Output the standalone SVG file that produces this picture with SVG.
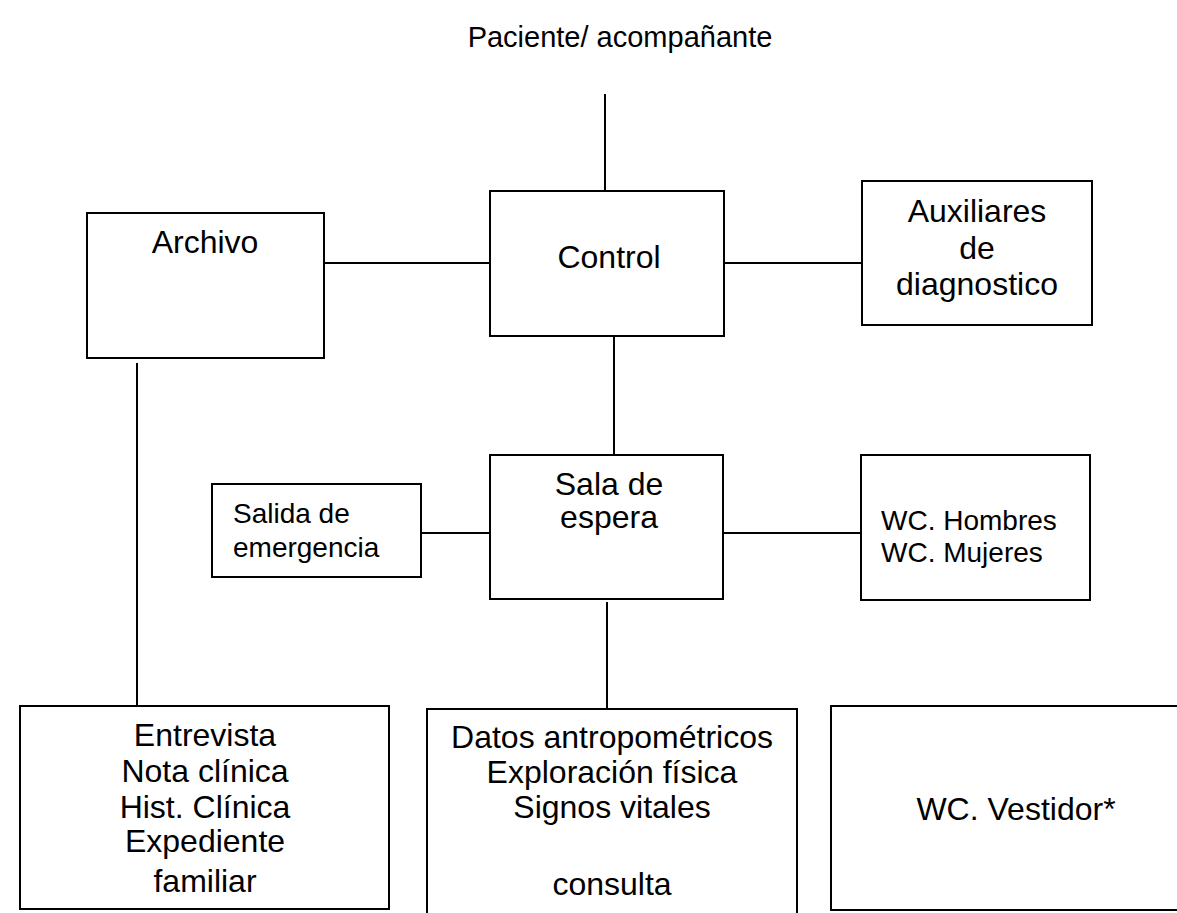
<svg xmlns="http://www.w3.org/2000/svg" width="1177" height="913" viewBox="0 0 1177 913">
<style>
.box{fill:#fff;stroke:#000;stroke-width:2}
.ln{stroke:#000;stroke-width:2;fill:none}
text{font-family:"Liberation Sans",Arial,sans-serif;fill:#000}
.t31{font-size:32px;text-anchor:middle}
.t28{font-size:28px}
</style>
<rect width="1177" height="913" fill="#fff"/>
<g id="connectors">
<line class="ln" x1="605" y1="94" x2="605" y2="191"/>
<line class="ln" x1="324" y1="263" x2="490" y2="263"/>
<line class="ln" x1="724" y1="263" x2="862" y2="263"/>
<line class="ln" x1="614" y1="336" x2="614" y2="455"/>
<line class="ln" x1="421" y1="533" x2="490" y2="533"/>
<line class="ln" x1="723" y1="533" x2="861" y2="533"/>
<line class="ln" x1="137" y1="363" x2="137" y2="706"/>
<line class="ln" x1="607" y1="602" x2="607" y2="709"/>
</g>
<g id="paciente">
<text x="620" y="47" font-size="29" text-anchor="middle">Paciente/ acompañante</text>
</g>
<g id="archivo">
<rect class="box" x="87" y="213" width="237" height="145"/>
<text class="t31" x="205" y="253">Archivo</text>
</g>
<g id="control">
<rect class="box" x="490" y="191" width="234" height="145"/>
<text class="t31" x="609" y="268">Control</text>
</g>
<g id="auxiliares">
<rect class="box" x="862" y="181" width="230" height="144"/>
<text class="t31" x="977" y="222">Auxiliares</text>
<text class="t31" x="977" y="259">de</text>
<text class="t31" x="977" y="295">diagnostico</text>
</g>
<g id="salida">
<rect class="box" x="212" y="484" width="209" height="93"/>
<text class="t28" x="233" y="523">Salida de</text>
<text class="t28" x="233" y="557">emergencia</text>
</g>
<g id="sala">
<rect class="box" x="490" y="455" width="233" height="144"/>
<text class="t31" x="609" y="495">Sala de</text>
<text class="t31" x="609" y="528">espera</text>
</g>
<g id="wc">
<rect class="box" x="861" y="455" width="229" height="145"/>
<text class="t28" x="881" y="530">WC. Hombres</text>
<text class="t28" x="881" y="562">WC. Mujeres</text>
</g>
<g id="entrevista">
<rect class="box" x="20" y="706" width="369" height="203"/>
<text class="t31" x="205" y="746">Entrevista</text>
<text class="t31" x="205" y="782">Nota clínica</text>
<text class="t31" x="205" y="818">Hist. Clínica</text>
<text class="t31" x="205" y="852">Expediente</text>
<text class="t31" x="205" y="892">familiar</text>
</g>
<g id="consulta">
<path class="ln" d="M427,913 V709 H797 V913"/>
<text class="t31" x="612" y="748">Datos antropométricos</text>
<text class="t31" x="612" y="783">Exploración física</text>
<text class="t31" x="612" y="818">Signos vitales</text>
<text class="t31" x="612" y="895">consulta</text>
</g>
<g id="vestidor">
<rect class="box" x="831" y="706" width="370" height="204"/>
<text class="t31" x="1016" y="820">WC. Vestidor*</text>
</g>
</svg>
